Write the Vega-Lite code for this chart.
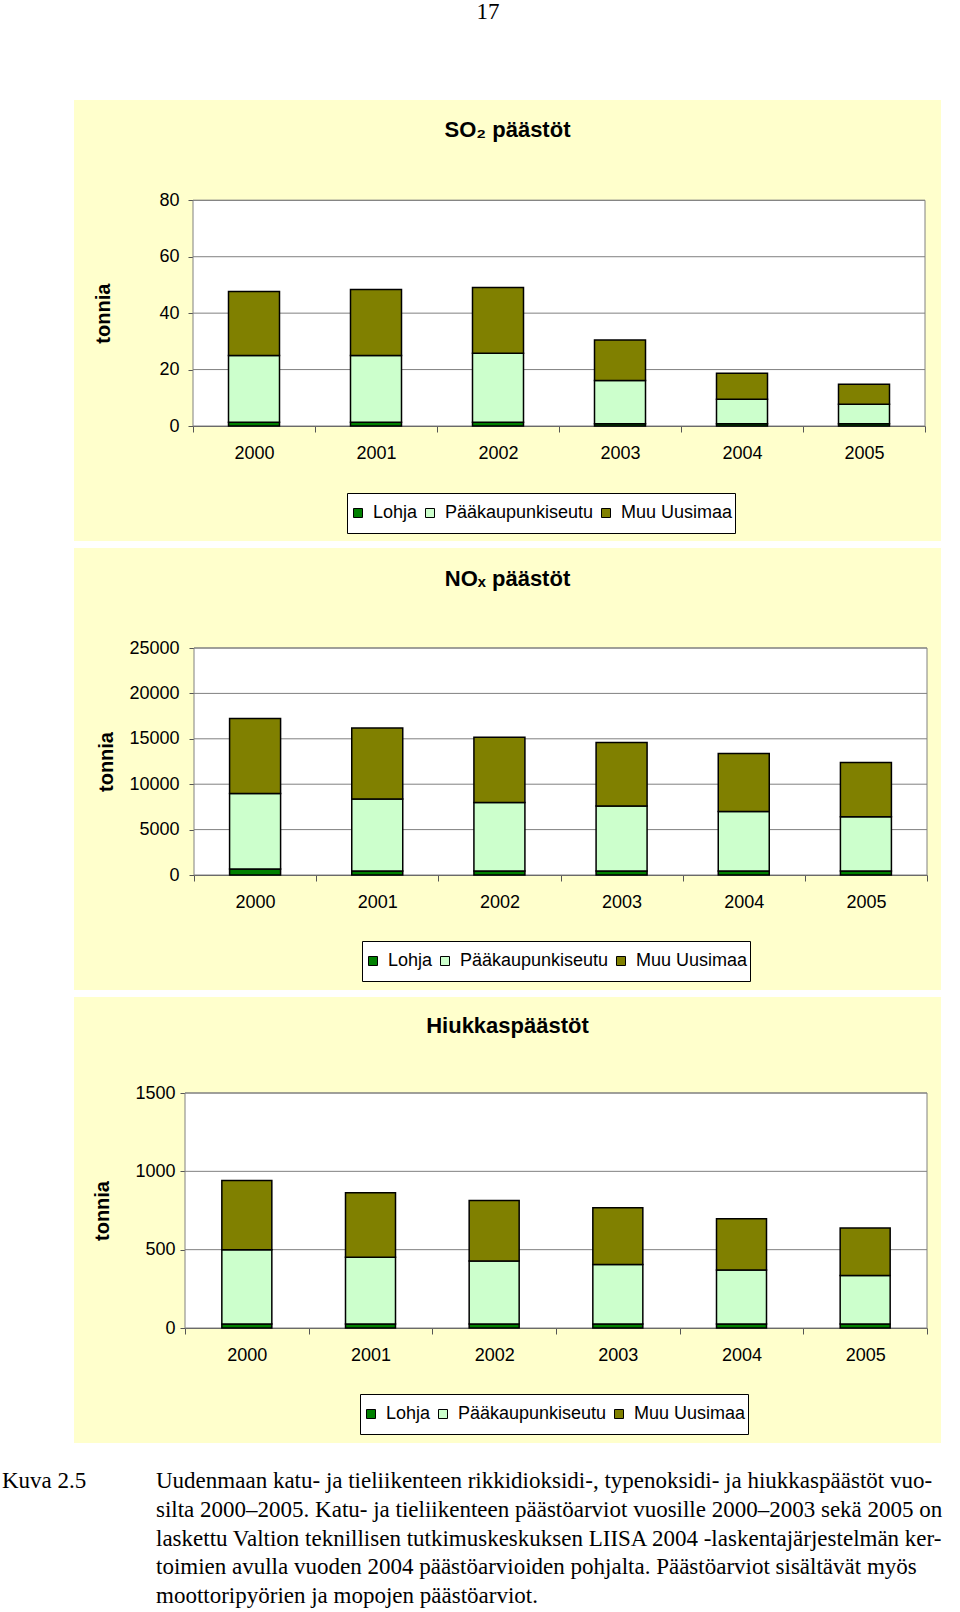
{
  "$schema": "https://vega.github.io/schema/vega-lite/v6.json",
  "padding": {"left": 2, "top": 1, "right": 0, "bottom": 0},
  "background": "#FFFFFF",
  "title": {"text": "17", "font": "Liberation Serif", "fontSize": 23, "fontWeight": "normal", "anchor": "middle", "offset": 76, "dx": 7, "color": "#000000"},
  "spacing": 7,
  "config": {"font": "Liberation Sans", "view": {"stroke": null}},
  "resolve": {"scale": {"color": "independent"}, "legend": {"color": "independent"}},
  "datasets": {
    "bars": [
      {"chart": "so2", "year": 2000, "region": "Lohja", "n": 1, "value": 1.3},
      {"chart": "so2", "year": 2000, "region": "Pääkaupunkiseutu", "n": 2, "value": 23.7},
      {"chart": "so2", "year": 2000, "region": "Muu Uusimaa", "n": 3, "value": 22.7},
      {"chart": "so2", "year": 2001, "region": "Lohja", "n": 1, "value": 1.3},
      {"chart": "so2", "year": 2001, "region": "Pääkaupunkiseutu", "n": 2, "value": 23.7},
      {"chart": "so2", "year": 2001, "region": "Muu Uusimaa", "n": 3, "value": 23.4},
      {"chart": "so2", "year": 2002, "region": "Lohja", "n": 1, "value": 1.3},
      {"chart": "so2", "year": 2002, "region": "Pääkaupunkiseutu", "n": 2, "value": 24.5},
      {"chart": "so2", "year": 2002, "region": "Muu Uusimaa", "n": 3, "value": 23.3},
      {"chart": "so2", "year": 2003, "region": "Lohja", "n": 1, "value": 0.8},
      {"chart": "so2", "year": 2003, "region": "Pääkaupunkiseutu", "n": 2, "value": 15.3},
      {"chart": "so2", "year": 2003, "region": "Muu Uusimaa", "n": 3, "value": 14.4},
      {"chart": "so2", "year": 2004, "region": "Lohja", "n": 1, "value": 0.8},
      {"chart": "so2", "year": 2004, "region": "Pääkaupunkiseutu", "n": 2, "value": 8.7},
      {"chart": "so2", "year": 2004, "region": "Muu Uusimaa", "n": 3, "value": 9.2},
      {"chart": "so2", "year": 2005, "region": "Lohja", "n": 1, "value": 0.8},
      {"chart": "so2", "year": 2005, "region": "Pääkaupunkiseutu", "n": 2, "value": 6.9},
      {"chart": "so2", "year": 2005, "region": "Muu Uusimaa", "n": 3, "value": 7.1},
      {"chart": "nox", "year": 2000, "region": "Lohja", "n": 1, "value": 660},
      {"chart": "nox", "year": 2000, "region": "Pääkaupunkiseutu", "n": 2, "value": 8320},
      {"chart": "nox", "year": 2000, "region": "Muu Uusimaa", "n": 3, "value": 8250},
      {"chart": "nox", "year": 2001, "region": "Lohja", "n": 1, "value": 440},
      {"chart": "nox", "year": 2001, "region": "Pääkaupunkiseutu", "n": 2, "value": 7920},
      {"chart": "nox", "year": 2001, "region": "Muu Uusimaa", "n": 3, "value": 7840},
      {"chart": "nox", "year": 2002, "region": "Lohja", "n": 1, "value": 440},
      {"chart": "nox", "year": 2002, "region": "Pääkaupunkiseutu", "n": 2, "value": 7550},
      {"chart": "nox", "year": 2002, "region": "Muu Uusimaa", "n": 3, "value": 7190},
      {"chart": "nox", "year": 2003, "region": "Lohja", "n": 1, "value": 440},
      {"chart": "nox", "year": 2003, "region": "Pääkaupunkiseutu", "n": 2, "value": 7150},
      {"chart": "nox", "year": 2003, "region": "Muu Uusimaa", "n": 3, "value": 7000},
      {"chart": "nox", "year": 2004, "region": "Lohja", "n": 1, "value": 440},
      {"chart": "nox", "year": 2004, "region": "Pääkaupunkiseutu", "n": 2, "value": 6560},
      {"chart": "nox", "year": 2004, "region": "Muu Uusimaa", "n": 3, "value": 6380},
      {"chart": "nox", "year": 2005, "region": "Lohja", "n": 1, "value": 440},
      {"chart": "nox", "year": 2005, "region": "Pääkaupunkiseutu", "n": 2, "value": 5975},
      {"chart": "nox", "year": 2005, "region": "Muu Uusimaa", "n": 3, "value": 5975},
      {"chart": "pm", "year": 2000, "region": "Lohja", "n": 1, "value": 26},
      {"chart": "pm", "year": 2000, "region": "Pääkaupunkiseutu", "n": 2, "value": 473},
      {"chart": "pm", "year": 2000, "region": "Muu Uusimaa", "n": 3, "value": 443},
      {"chart": "pm", "year": 2001, "region": "Lohja", "n": 1, "value": 25},
      {"chart": "pm", "year": 2001, "region": "Pääkaupunkiseutu", "n": 2, "value": 427},
      {"chart": "pm", "year": 2001, "region": "Muu Uusimaa", "n": 3, "value": 411},
      {"chart": "pm", "year": 2002, "region": "Lohja", "n": 1, "value": 25},
      {"chart": "pm", "year": 2002, "region": "Pääkaupunkiseutu", "n": 2, "value": 403},
      {"chart": "pm", "year": 2002, "region": "Muu Uusimaa", "n": 3, "value": 386},
      {"chart": "pm", "year": 2003, "region": "Lohja", "n": 1, "value": 25},
      {"chart": "pm", "year": 2003, "region": "Pääkaupunkiseutu", "n": 2, "value": 380},
      {"chart": "pm", "year": 2003, "region": "Muu Uusimaa", "n": 3, "value": 362},
      {"chart": "pm", "year": 2004, "region": "Lohja", "n": 1, "value": 25},
      {"chart": "pm", "year": 2004, "region": "Pääkaupunkiseutu", "n": 2, "value": 346},
      {"chart": "pm", "year": 2004, "region": "Muu Uusimaa", "n": 3, "value": 326},
      {"chart": "pm", "year": 2005, "region": "Lohja", "n": 1, "value": 25},
      {"chart": "pm", "year": 2005, "region": "Pääkaupunkiseutu", "n": 2, "value": 310},
      {"chart": "pm", "year": 2005, "region": "Muu Uusimaa", "n": 3, "value": 304}
    ],
    "grid": [
      {"chart": "so2", "v": 20}, {"chart": "so2", "v": 40}, {"chart": "so2", "v": 60}, {"chart": "so2", "v": 80},
      {"chart": "nox", "v": 5000}, {"chart": "nox", "v": 10000}, {"chart": "nox", "v": 15000}, {"chart": "nox", "v": 20000}, {"chart": "nox", "v": 25000},
      {"chart": "pm", "v": 500}, {"chart": "pm", "v": 1000}, {"chart": "pm", "v": 1500}
    ],
    "caption": [
      {"col": "label", "line": 1, "text": "Kuva 2.5"},
      {"col": "body", "line": 1, "text": "Uudenmaan katu- ja tieliikenteen rikkidioksidi-, typenoksidi- ja hiukkaspäästöt vuo-"},
      {"col": "body", "line": 2, "text": "silta 2000–2005. Katu- ja tieliikenteen päästöarviot vuosille 2000–2003 sekä 2005 on"},
      {"col": "body", "line": 3, "text": "laskettu Valtion teknillisen tutkimuskeskuksen LIISA 2004 -laskentajärjestelmän ker-"},
      {"col": "body", "line": 4, "text": "toimien avulla vuoden 2004 päästöarvioiden pohjalta. Päästöarviot sisältävät myös"},
      {"col": "body", "line": 5, "text": "moottoripyörien ja mopojen päästöarviot."}
    ]
  },
  "vconcat": [
    {
      "width": 867, "height": 441,
      "view": {"fill": "#FFFFCC", "stroke": null},
      "title": {"text": "SO₂ päästöt", "anchor": "middle", "offset": -42, "fontSize": 22, "fontWeight": "bold", "color": "#000000"},
      "layer": [
        {
          "data": {"values": [{}]},
          "mark": {"type": "rect", "fill": "#FFFFFF", "stroke": "#808080", "strokeWidth": 1},
          "encoding": {
            "x": {"datum": 1999.5, "type": "quantitative", "scale": {"domain": [1999.5, 2005.5], "range": [119, 851], "padding": 0, "nice": false, "zero": false}},
            "x2": {"datum": 2005.5},
            "y": {"datum": 0, "type": "quantitative", "scale": {"domain": [0, 80], "range": [326, 100.3], "padding": 0, "nice": false, "zero": false}},
            "y2": {"datum": 80}
          }
        },
        {
          "data": {"name": "grid"},
          "transform": [{"filter": "datum.chart == 'so2'"}],
          "mark": {"type": "rule", "color": "#808080", "strokeWidth": 1},
          "encoding": {
            "y": {"field": "v", "type": "quantitative", "scale": {"domain": [0, 80], "range": [326, 100.3], "padding": 0, "nice": false, "zero": false}},
            "x": {"datum": 1999.5, "type": "quantitative", "scale": {"domain": [1999.5, 2005.5], "range": [119, 851], "padding": 0, "nice": false, "zero": false}},
            "x2": {"datum": 2005.5}
          }
        },
        {
          "data": {"name": "bars"},
          "transform": [{"filter": "datum.chart == 'so2'"}],
          "mark": {"type": "bar", "width": 51, "stroke": "#000000", "strokeWidth": 1.5},
          "encoding": {
            "x": {"field": "year", "type": "quantitative", "scale": {"domain": [1999.5, 2005.5], "range": [119, 851], "padding": 0, "nice": false, "zero": false},
              "axis": {"orient": "bottom", "offset": -115, "values": [1999.5, 2000, 2000.5, 2001, 2001.5, 2002, 2002.5, 2003, 2003.5, 2004, 2004.5, 2005, 2005.5],
                "labelExpr": "datum.value % 1 == 0 ? '' + datum.value : ''",
                "tickOpacity": {"condition": {"test": "datum.value % 1 == 0", "value": 0}, "value": 1},
                "tickSize": 6, "tickColor": "#555555", "domainColor": "#555555", "labelFontSize": 18, "labelColor": "#000000", "labelPadding": 12,
                "labelOverlap": false, "labelFlush": false, "labelBound": false, "grid": false, "title": null}},
            "y": {"field": "value", "type": "quantitative", "stack": "zero", "scale": {"domain": [0, 80], "range": [326, 100.3], "padding": 0, "nice": false, "zero": false},
              "axis": {"orient": "left", "offset": -119, "values": [0, 20, 40, 60, 80], "format": "d", "tickSize": 5, "tickColor": "#555555", "domainColor": "#555555",
                "labelFontSize": 18, "labelColor": "#000000", "labelPadding": 9, "labelOverlap": false, "labelFlush": false, "grid": false,
                "title": "tonnia", "titleFontSize": 20, "titleFontWeight": "bold", "titleColor": "#000000", "titlePadding": 45}},
            "color": {"field": "region", "type": "nominal",
              "scale": {"domain": ["Lohja", "Pääkaupunkiseutu", "Muu Uusimaa"], "range": ["#008000", "#CCFFCC", "#808000"]},
              "legend": {"orient": "none", "legendX": 273, "legendY": 393, "direction": "horizontal", "title": null,
                "labelFontSize": 18, "labelColor": "#000000", "symbolType": "square", "symbolSize": 81, "symbolStrokeColor": "#000000", "symbolStrokeWidth": 1,
                "labelOffset": 6, "columnPadding": 3, "padding": 2, "clipHeight": 36, "strokeColor": "#000000", "fillColor": "#FFFFFF"}},
            "order": {"field": "n", "type": "quantitative", "sort": "ascending"}
          }
        }
      ]
    },
    {
      "width": 867, "height": 442,
      "view": {"fill": "#FFFFCC", "stroke": null},
      "title": {"text": "NOₓ päästöt", "anchor": "middle", "offset": -43, "fontSize": 22, "fontWeight": "bold", "color": "#000000"},
      "layer": [
        {
          "data": {"values": [{}]},
          "mark": {"type": "rect", "fill": "#FFFFFF", "stroke": "#808080", "strokeWidth": 1},
          "encoding": {
            "x": {"datum": 1999.5, "type": "quantitative", "scale": {"domain": [1999.5, 2005.5], "range": [120, 853], "padding": 0, "nice": false, "zero": false}},
            "x2": {"datum": 2005.5},
            "y": {"datum": 0, "type": "quantitative", "scale": {"domain": [0, 25000], "range": [327, 100], "padding": 0, "nice": false, "zero": false}},
            "y2": {"datum": 25000}
          }
        },
        {
          "data": {"name": "grid"},
          "transform": [{"filter": "datum.chart == 'nox'"}],
          "mark": {"type": "rule", "color": "#808080", "strokeWidth": 1},
          "encoding": {
            "y": {"field": "v", "type": "quantitative", "scale": {"domain": [0, 25000], "range": [327, 100], "padding": 0, "nice": false, "zero": false}},
            "x": {"datum": 1999.5, "type": "quantitative", "scale": {"domain": [1999.5, 2005.5], "range": [120, 853], "padding": 0, "nice": false, "zero": false}},
            "x2": {"datum": 2005.5}
          }
        },
        {
          "data": {"name": "bars"},
          "transform": [{"filter": "datum.chart == 'nox'"}],
          "mark": {"type": "bar", "width": 51, "stroke": "#000000", "strokeWidth": 1.5},
          "encoding": {
            "x": {"field": "year", "type": "quantitative", "scale": {"domain": [1999.5, 2005.5], "range": [120, 853], "padding": 0, "nice": false, "zero": false},
              "axis": {"orient": "bottom", "offset": -115, "values": [1999.5, 2000, 2000.5, 2001, 2001.5, 2002, 2002.5, 2003, 2003.5, 2004, 2004.5, 2005, 2005.5],
                "labelExpr": "datum.value % 1 == 0 ? '' + datum.value : ''",
                "tickOpacity": {"condition": {"test": "datum.value % 1 == 0", "value": 0}, "value": 1},
                "tickSize": 6, "tickColor": "#555555", "domainColor": "#555555", "labelFontSize": 18, "labelColor": "#000000", "labelPadding": 12,
                "labelOverlap": false, "labelFlush": false, "labelBound": false, "grid": false, "title": null}},
            "y": {"field": "value", "type": "quantitative", "stack": "zero", "scale": {"domain": [0, 25000], "range": [327, 100], "padding": 0, "nice": false, "zero": false},
              "axis": {"orient": "left", "offset": -120, "values": [0, 5000, 10000, 15000, 20000, 25000], "format": "d", "tickSize": 5, "tickColor": "#555555", "domainColor": "#555555",
                "labelFontSize": 18, "labelColor": "#000000", "labelPadding": 10, "labelOverlap": false, "labelFlush": false, "grid": false,
                "title": "tonnia", "titleFontSize": 20, "titleFontWeight": "bold", "titleColor": "#000000", "titlePadding": 12}},
            "color": {"field": "region", "type": "nominal",
              "scale": {"domain": ["Lohja", "Pääkaupunkiseutu", "Muu Uusimaa"], "range": ["#008000", "#CCFFCC", "#808000"]},
              "legend": {"orient": "none", "legendX": 288, "legendY": 393, "direction": "horizontal", "title": null,
                "labelFontSize": 18, "labelColor": "#000000", "symbolType": "square", "symbolSize": 81, "symbolStrokeColor": "#000000", "symbolStrokeWidth": 1,
                "labelOffset": 6, "columnPadding": 3, "padding": 2, "clipHeight": 36, "strokeColor": "#000000", "fillColor": "#FFFFFF"}},
            "order": {"field": "n", "type": "quantitative", "sort": "ascending"}
          }
        }
      ]
    },
    {
      "width": 867, "height": 446,
      "view": {"fill": "#FFFFCC", "stroke": null},
      "title": {"text": "Hiukkaspäästöt", "anchor": "middle", "offset": -41, "fontSize": 22, "fontWeight": "bold", "color": "#000000"},
      "layer": [
        {
          "data": {"values": [{}]},
          "mark": {"type": "rect", "fill": "#FFFFFF", "stroke": "#808080", "strokeWidth": 1},
          "encoding": {
            "x": {"datum": 1999.5, "type": "quantitative", "scale": {"domain": [1999.5, 2005.5], "range": [111, 853], "padding": 0, "nice": false, "zero": false}},
            "x2": {"datum": 2005.5},
            "y": {"datum": 0, "type": "quantitative", "scale": {"domain": [0, 1500], "range": [331, 96], "padding": 0, "nice": false, "zero": false}},
            "y2": {"datum": 1500}
          }
        },
        {
          "data": {"name": "grid"},
          "transform": [{"filter": "datum.chart == 'pm'"}],
          "mark": {"type": "rule", "color": "#808080", "strokeWidth": 1},
          "encoding": {
            "y": {"field": "v", "type": "quantitative", "scale": {"domain": [0, 1500], "range": [331, 96], "padding": 0, "nice": false, "zero": false}},
            "x": {"datum": 1999.5, "type": "quantitative", "scale": {"domain": [1999.5, 2005.5], "range": [111, 853], "padding": 0, "nice": false, "zero": false}},
            "x2": {"datum": 2005.5}
          }
        },
        {
          "data": {"name": "bars"},
          "transform": [{"filter": "datum.chart == 'pm'"}],
          "mark": {"type": "bar", "width": 50, "stroke": "#000000", "strokeWidth": 1.5},
          "encoding": {
            "x": {"field": "year", "type": "quantitative", "scale": {"domain": [1999.5, 2005.5], "range": [111, 853], "padding": 0, "nice": false, "zero": false},
              "axis": {"orient": "bottom", "offset": -115, "values": [1999.5, 2000, 2000.5, 2001, 2001.5, 2002, 2002.5, 2003, 2003.5, 2004, 2004.5, 2005, 2005.5],
                "labelExpr": "datum.value % 1 == 0 ? '' + datum.value : ''",
                "tickOpacity": {"condition": {"test": "datum.value % 1 == 0", "value": 0}, "value": 1},
                "tickSize": 6, "tickColor": "#555555", "domainColor": "#555555", "labelFontSize": 18, "labelColor": "#000000", "labelPadding": 12,
                "labelOverlap": false, "labelFlush": false, "labelBound": false, "grid": false, "title": null}},
            "y": {"field": "value", "type": "quantitative", "stack": "zero", "scale": {"domain": [0, 1500], "range": [331, 96], "padding": 0, "nice": false, "zero": false},
              "axis": {"orient": "left", "offset": -111, "values": [0, 500, 1000, 1500], "format": "d", "tickSize": 5, "tickColor": "#555555", "domainColor": "#555555",
                "labelFontSize": 18, "labelColor": "#000000", "labelPadding": 5, "labelOverlap": false, "labelFlush": false, "grid": false,
                "title": "tonnia", "titleFontSize": 20, "titleFontWeight": "bold", "titleColor": "#000000", "titlePadding": 22}},
            "color": {"field": "region", "type": "nominal",
              "scale": {"domain": ["Lohja", "Pääkaupunkiseutu", "Muu Uusimaa"], "range": ["#008000", "#CCFFCC", "#808000"]},
              "legend": {"orient": "none", "legendX": 286, "legendY": 397, "direction": "horizontal", "title": null,
                "labelFontSize": 18, "labelColor": "#000000", "symbolType": "square", "symbolSize": 81, "symbolStrokeColor": "#000000", "symbolStrokeWidth": 1,
                "labelOffset": 6, "columnPadding": 3, "padding": 2, "clipHeight": 36, "strokeColor": "#000000", "fillColor": "#FFFFFF"}},
            "order": {"field": "n", "type": "quantitative", "sort": "ascending"}
          }
        }
      ]
    },
    {
      "width": 886, "height": 162,
      "view": {"stroke": null},
      "data": {"name": "caption"},
      "mark": {"type": "text", "align": "left", "baseline": "middle", "font": "Liberation Serif", "fontSize": 23, "color": "#000000"},
      "encoding": {
        "x": {"field": "col", "type": "nominal", "scale": {"type": "point", "domain": ["label", "body"], "range": [-72, 82], "padding": 0}, "axis": null},
        "y": {"field": "line", "type": "quantitative", "scale": {"domain": [1, 5], "range": [31, 146], "nice": false, "zero": false}, "axis": null},
        "text": {"field": "text"}
      }
    }
  ]
}
